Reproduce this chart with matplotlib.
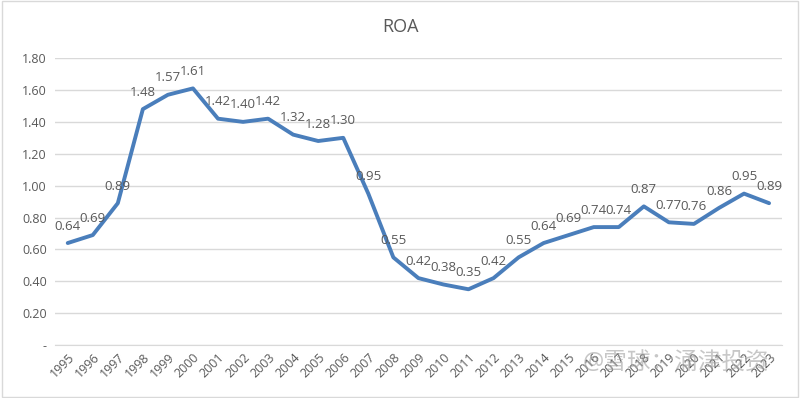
import matplotlib
matplotlib.use("Agg")
import matplotlib.pyplot as plt
from matplotlib.patches import Rectangle

years = [str(y) for y in range(1995, 2024)]
roa = [0.64, 0.69, 0.89, 1.48, 1.57, 1.61, 1.42, 1.40, 1.42, 1.32, 1.28, 1.30,
       0.95, 0.55, 0.42, 0.38, 0.35, 0.42, 0.55, 0.64, 0.69, 0.74, 0.74, 0.87,
       0.77, 0.76, 0.86, 0.95, 0.89]
yticks = [0.0, 0.2, 0.4, 0.6, 0.8, 1.0, 1.2, 1.4, 1.6, 1.8]
ytick_labels = ["-", "0.20", "0.40", "0.60", "0.80", "1.00", "1.20", "1.40", "1.60", "1.80"]

plt.rcParams['font.family'] = ['Open Sans', 'Noto Sans CJK SC', 'DejaVu Sans']
txt = "#595959"

fig = plt.figure(figsize=(8, 3.98), dpi=100)
ax = fig.add_axes([0.069, 0.133, 0.908, 0.721])

x = list(range(len(years)))
ax.plot(x, roa, color="#4a7ebb", lw=2.8, solid_joinstyle="round", solid_capstyle="round", zorder=3)
for xi, v in zip(x, roa):
    ax.annotate(f"{v:.2f}", (xi, v), xytext=(0, 7.5), textcoords="offset points",
                ha="center", va="bottom", fontsize=9.5, color=txt, zorder=4)

ax.set_xlim(-0.5, len(years) - 0.5)
ax.set_ylim(0, 1.8)
ax.set_yticks(yticks)
ax.set_yticklabels(ytick_labels, fontsize=9, color=txt)
ax.set_xticks(x)
ax.set_xticklabels(years, rotation=45, fontsize=9, color=txt, ha="right", rotation_mode="anchor")
ax.tick_params(length=0, pad=6)
ax.tick_params(axis="x", pad=4)
ax.grid(axis="y", color="#d9d9d9", lw=1)
ax.set_axisbelow(True)
for s in ["top", "right", "left"]:
    ax.spines[s].set_visible(False)
ax.spines["bottom"].set_color("#d9d9d9")

fig.text(0.5, 0.932, "ROA", ha="center", va="center", fontsize=13, color=txt)
fig.text(0.845, 0.085, "@雪球：涌津投资", ha="center", va="center", fontsize=17,
         color="#999999", alpha=0.55)
fig.patches.append(Rectangle((0.002, 0.003), 0.996, 0.994, transform=fig.transFigure,
                             fill=False, edgecolor="#d9d9d9", lw=1))

fig.savefig("out.png", dpi=100)
